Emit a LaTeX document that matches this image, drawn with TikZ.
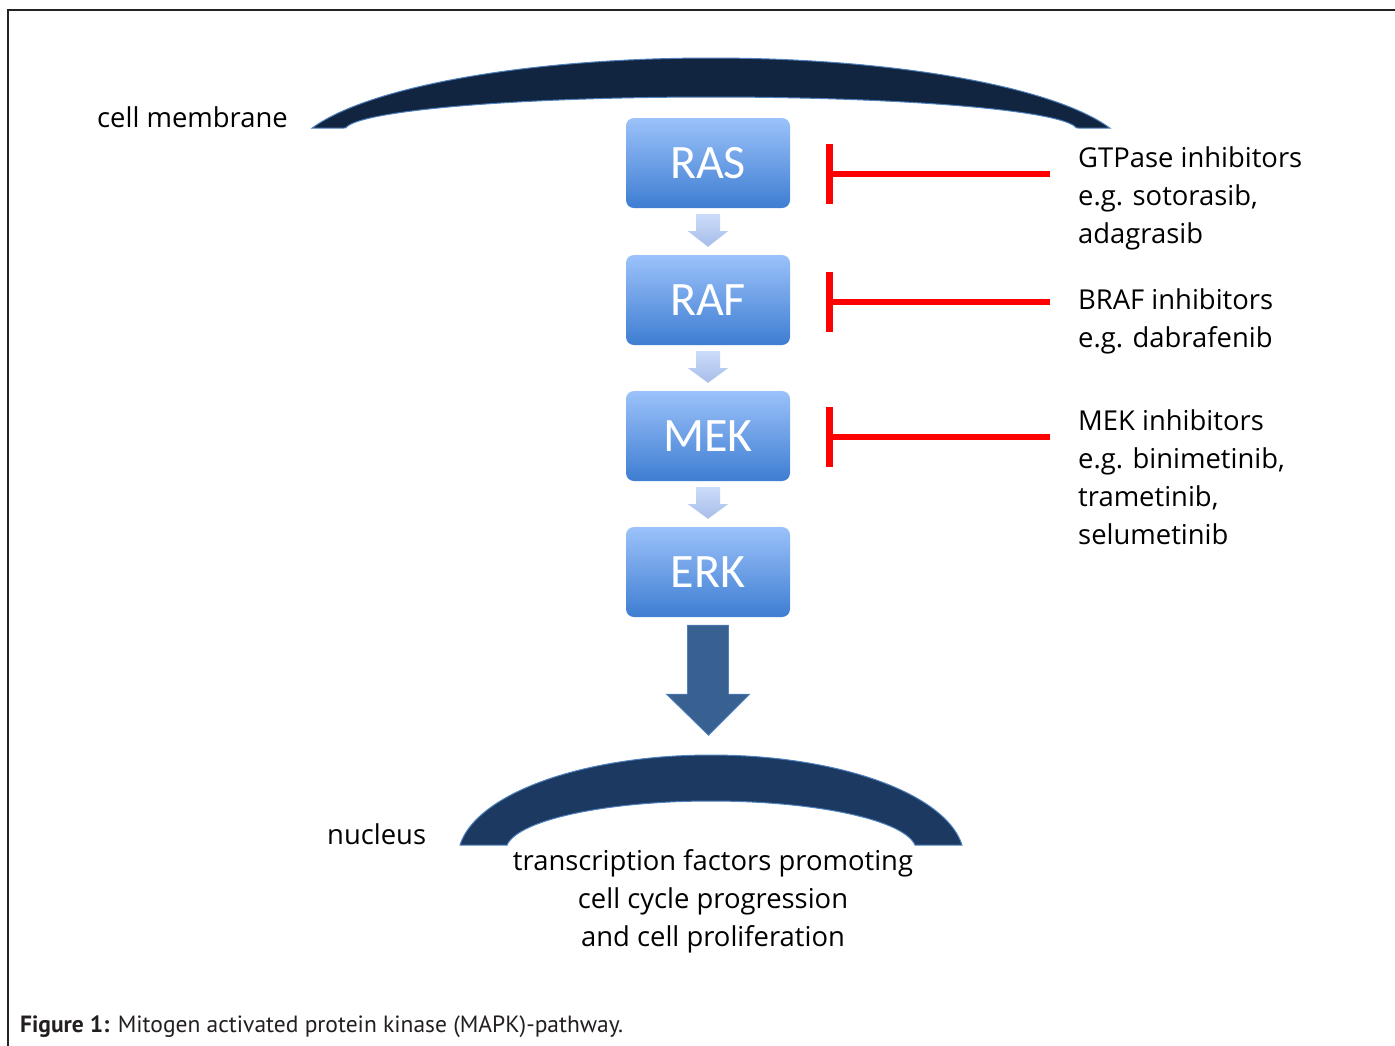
\documentclass[tikz,border=0pt]{standalone}
\usepackage{fontspec}
\setmainfont{Open Sans}
\newfontfamily\boxfont{Carlito}
\newfontfamily\capfont{PT Sans}
\usetikzlibrary{calc}
\definecolor{membranec}{RGB}{18,37,64}
\definecolor{nucleusc}{RGB}{27,57,97}
\definecolor{edgeblue}{RGB}{79,129,189}
\definecolor{boxtop}{RGB}{155,194,250}
\definecolor{boxbot}{RGB}{62,125,210}
\definecolor{satop}{RGB}{203,220,250}
\definecolor{sabot}{RGB}{166,189,232}
\definecolor{bigarrow}{RGB}{56,97,146}
\definecolor{framec}{RGB}{35,35,35}
\definecolor{capc}{RGB}{35,31,32}
\tikzset{
  kbox/.style={rounded corners=8pt, minimum width=164pt, minimum height=90pt,
    top color=boxtop, bottom color=boxbot, text=white, inner sep=0pt,
    font=\boxfont\fontsize{48}{48}\selectfont},
  smallarrow/.style={top color=satop, bottom color=sabot, draw=none},
  bigarr/.style={fill=bigarrow, draw=edgeblue, line width=0.8pt},
  inhib/.style={draw=red, line width=6.5pt},
  lbl/.style={inner sep=0pt, font=\fontsize{27.4}{38}\selectfont, text=black},
  arcshape/.style={draw=edgeblue, line width=1pt},
}
\begin{document}
\begin{tikzpicture}[x=1pt,y=-1pt]
\useasboundingbox (0,0) rectangle (1395,1045);
\fill[white] (0,0) rectangle (1395,1045);
% frame
\draw[framec, line width=2.5pt] (8,1046) -- (8,10) -- (1396,10);

% cell membrane
\fill[membranec, arcshape]
  plot[domain=198.2:341.8, samples=120] ({711+420*cos(\x)},{160+102*sin(\x)})
  -- plot[domain=356.5:183.5, samples=120] ({711+366*cos(\x)},{130+33*sin(\x)})
  -- cycle;
\node[lbl, anchor=base west] (memlbl) at (97,127) {cell membrane};

% kinase boxes
\node[kbox] (ras) at (708,163) {RAS};
\node[kbox] (raf) at (708,300) {RAF};
\node[kbox] (mek) at (708,436) {MEK};
\node[kbox] (erk) at (708,572) {ERK};

% small arrows
\foreach \a/\b in {ras/raf, raf/mek, mek/erk}{
  \shade[smallarrow] ($(\a.south)+(-12,6)$) -- ($(\a.south)+(12,6)$)
    -- ($(\a.south)+(12,23)$) -- ($(\a.south)+(20,23)$)
    -- ($(\b.north)+(0,-8)$) -- ($(\a.south)+(-20,23)$)
    -- ($(\a.south)+(-12,23)$) -- cycle;
}

% big arrow
\filldraw[bigarr] ($(erk.south)+(-20.5,8)$) -- ($(erk.south)+(20.5,8)$)
  -- ($(erk.south)+(20.5,77)$) -- ($(erk.south)+(41.5,77)$)
  -- ($(erk.south)+(0.5,118)$) -- ($(erk.south)+(-41.5,77)$)
  -- ($(erk.south)+(-20.5,77)$) -- cycle;

% inhibitors
\coordinate (i1s) at (1050,174); \coordinate (i1e) at (829.5,174);
\coordinate (i2s) at (1050,302); \coordinate (i2e) at (829.5,302);
\coordinate (i3s) at (1050,437); \coordinate (i3e) at (829.5,437);
\foreach \s/\e in {i1s/i1e, i2s/i2e, i3s/i3e}{
  \draw[inhib] (\s) -- (\e);
  \draw[inhib] ($(\e)+(0,-30)$) -- ($(\e)+(0,30)$);
}

\node[lbl, anchor=base west] (g1) at (1078,167) {GTPase inhibitors};
\node[lbl, anchor=base west] (g2) at (1078,205) {e.g. sotorasib,};
\node[lbl, anchor=base west] (g3) at (1078,243) {adagrasib};
\node[lbl, anchor=base west] (b1) at (1078,309) {BRAF inhibitors};
\node[lbl, anchor=base west] (b2) at (1078,347) {e.g. dabrafenib};
\node[lbl, anchor=base west] (m1) at (1078,430) {MEK inhibitors};
\node[lbl, anchor=base west] (m2) at (1078,468) {e.g. binimetinib,};
\node[lbl, anchor=base west] (m3) at (1078,506) {trametinib,};
\node[lbl, anchor=base west] (m4) at (1078,544) {selumetinib};

% nucleus
\fill[nucleusc, arcshape]
  plot[domain=187.25:352.75, samples=120] ({711+253*cos(\x)},{858+103*sin(\x)})
  -- plot[domain=354.14:185.86, samples=120] ({711+205*cos(\x)},{850+49*sin(\x)})
  -- cycle;
\node[lbl, anchor=base west] (nuclbl) at (327,844) {nucleus};
\node[lbl, anchor=base] (t1) at (713,870) {transcription factors promoting};
\node[lbl, anchor=base] (t2) at (713,908) {cell cycle progression};
\node[lbl, anchor=base] (t3) at (713,946) {and cell proliferation};

% caption
\node[inner sep=0pt, anchor=base west, text=capc, font=\capfont\fontsize{23.5}{28}\selectfont] (cap) at (20,1032)
  {\textbf{Figure 1:} Mitogen activated protein kinase (MAPK)-pathway.};
\end{tikzpicture}
\end{document}
